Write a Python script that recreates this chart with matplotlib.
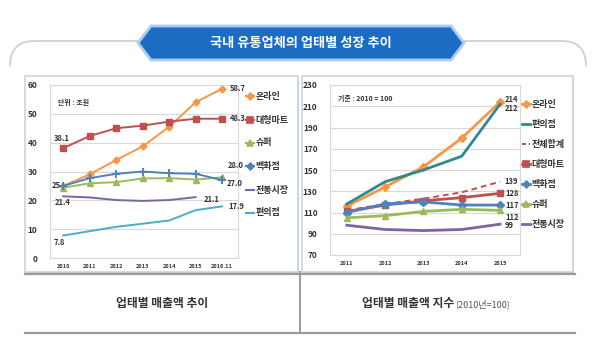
import matplotlib
matplotlib.use('Agg')
import matplotlib.pyplot as plt
from matplotlib.patches import Polygon, Rectangle, PathPatch
from matplotlib.path import Path
from matplotlib.lines import Line2D

plt.rcParams['font.family'] = ['Noto Sans CJK KR', 'DejaVu Sans']

W, H = 600, 348

# 업태별 매출액 (조원)
years_l = ['2010', '2011', '2012', '2013', '2014', '2015', '2016.11']
online_l = [25.0, 29.0, 34.0, 38.7, 45.5, 54.0, 58.7]
mart_l = [38.1, 42.3, 45.0, 45.9, 47.3, 48.3, 48.3]
super_l = [24.4, 25.9, 26.3, 27.6, 27.7, 27.2, 28.0]
dept_l = [25.0, 27.7, 29.2, 30.0, 29.4, 29.2, 27.0]
market_l = [21.4, 21.0, 20.1, 19.8, 20.1, 21.1]
conv_l = [7.8, 9.3, 10.8, 11.9, 13.0, 16.6, 17.9]

# 업태별 매출액 지수 (2010 = 100)
years_r = ['2011', '2012', '2013', '2014', '2015']
online_r = [116, 134, 153, 180, 214]
conv_r = [118, 139, 150, 163, 212]
total_r = [112, 118, 123, 129, 139]
mart_r = [111, 117, 121, 124, 128]
dept_r = [110, 118, 120, 117, 117]
super_r = [105, 107, 111, 113, 112]
market_r = [98, 94, 93, 94, 99]

ORANGE = '#f79646'
RED = '#c0504d'
GREEN = '#9bbb59'
BLUE = '#4f81bd'
PURPLE = '#8064a2'
CYAN = '#4bacc6'
TEAL = '#2f8a8f'
TXT = '#333333'


def rect(x0, y0, x1, y1):
    return [x0 / W, 1 - y1 / H, (x1 - x0) / W, (y1 - y0) / H]


fig = plt.figure(figsize=(6, 3.48), dpi=100)
bg = fig.add_axes([0, 0, 1, 1], zorder=0)
bg.set_xlim(0, W)
bg.set_ylim(H, 0)
bg.axis('off')

# title banner with side arcs
arc_l = Path([(10, 66), (10, 41), (34, 41), (138, 41)],
             [Path.MOVETO, Path.CURVE3, Path.CURVE3, Path.LINETO])
arc_r = Path([(464, 41), (562, 41), (586, 41), (586, 66)],
             [Path.MOVETO, Path.LINETO, Path.CURVE3, Path.CURVE3])
for p in (arc_l, arc_r):
    bg.add_patch(PathPatch(p, fc='none', ec='#d0d0d0', lw=1.3))
bg.add_patch(Polygon([(138, 43), (151, 26), (451, 26), (464, 43), (451, 60), (151, 60)],
                     closed=True, fc='#1c6cc4', ec='#a9cdee', lw=2))
bg.text(301, 43, '국내 유통업체의 업태별 성장 추이', color='white', fontsize=9.5,
        fontweight='bold', ha='center', va='center')

# chart panels
for x0, x1 in ((25, 298), (302, 573)):
    bg.add_patch(Rectangle((x0 + 1, 77.5), x1 - x0, 196, fc='#b8bcc4', ec='none'))
    bg.add_patch(Rectangle((x0, 76), x1 - x0, 196, fc='white', ec='#c9d5e3', lw=1.2))

# caption table
bg.plot([25, 575], [274, 274], color='#9a9a9a', lw=1.6)
bg.plot([25, 575], [333, 333], color='#9a9a9a', lw=1.6)
bg.plot([300, 300], [272, 333], color='#9a9a9a', lw=1.4)
bg.text(162, 304, '업태별 매출액 추이', color=TXT, fontsize=8.5, fontweight='bold',
        ha='center', va='center')
bg.text(454, 304, '업태별 매출액 지수', color=TXT, fontsize=8.5, fontweight='bold',
        ha='right', va='center')
bg.text(455, 304, '(2010년=100)', color='#555555', fontsize=6.5,
        ha='left', va='center')


def style(ax, ylo, yhi, step, labels):
    ax.set_ylim(ylo, yhi)
    ax.set_yticks(range(ylo, yhi + 1, step))
    ax.set_xticks(range(len(labels)))
    ax.set_xticklabels(labels)
    ax.grid(axis='y', color='#d9d9d9', lw=0.8)
    ax.set_axisbelow(True)
    for s in ax.spines.values():
        s.set_color('#d9d9d9')
        s.set_linewidth(0.8)
    ax.tick_params(length=0)
    ax.tick_params(axis='y', labelsize=6, pad=9, labelcolor=TXT)
    ax.tick_params(axis='x', labelsize=4, pad=4, labelcolor=TXT)
    for t in ax.get_yticklabels() + ax.get_xticklabels():
        t.set_fontweight('bold')


def label(ax, x, y, s, dx, dy, ha='left'):
    ax.annotate(s, (x, y), xytext=(dx, dy), textcoords='offset pixels',
                ha=ha, va='center', fontsize=5.5, fontweight='bold', color=TXT)


def key(x, y, color, s, marker=None, ls='-', lw=1.5, ms=4, w=8):
    bg.add_line(Line2D([x, x + w], [y, y], color=color, lw=lw, ls=ls))
    if marker:
        bg.plot([x + w / 2], [y], marker=marker, color=color, ms=ms, mew=1.2)
    bg.text(x + w + 1.5, y, s, fontsize=6.5, fontweight='bold', color=TXT,
            ha='left', va='center')


# left: sales trend
ax1 = fig.add_axes(rect(50, 85, 238, 258), zorder=1)
xl = range(len(years_l))
ax1.plot(xl, online_l, color=ORANGE, lw=1.4, marker='D', ms=3.5)
ax1.plot(xl, mart_l, color=RED, lw=1.4, marker='s', ms=4)
ax1.plot(xl, super_l, color=GREEN, lw=1.4, marker='^', ms=4)
ax1.plot(xl, dept_l, color=BLUE, lw=1.4, marker='+', ms=6, mew=1.4)
ax1.plot(range(len(market_l)), market_l, color=PURPLE, lw=1.4)
ax1.plot(xl, conv_l, color=CYAN, lw=1.4)
style(ax1, 0, 60, 10, years_l)
ax1.set_xlim(-0.5, 6.6)
ax1.text(0.04, 0.9, '단위 : 조원', transform=ax1.transAxes, fontsize=5,
         fontweight='bold', color=TXT, va='center')

label(ax1, 6, online_l[-1], f'{online_l[-1]:.1f}', 8, 0)
label(ax1, 6, mart_l[-1], f'{mart_l[-1]:.1f}', 8, 0)
label(ax1, 6, super_l[-1], f'{super_l[-1]:.1f}', 6, 12)
label(ax1, 6, dept_l[-1], f'{dept_l[-1]:.1f}', 5, -3)
label(ax1, 5, market_l[-1], f'{market_l[-1]:.1f}', 8, -2)
label(ax1, 6, conv_l[-1], f'{conv_l[-1]:.1f}', 6, 0)
label(ax1, 0, mart_l[0], f'{mart_l[0]:.1f}', -1, 10, ha='center')
label(ax1, 0, online_l[0], f'{online_l[0]:.0f}', -3, 0, ha='right')
label(ax1, 0, market_l[0], f'{market_l[0]:.1f}', -1, -6, ha='center')
label(ax1, 0, conv_l[0], f'{conv_l[0]:.1f}', -4, -7, ha='center')

key(246, 96, ORANGE, '온라인', 'D', ms=3.5)
key(246, 120, RED, '대형마트', 's', ms=4)
key(246, 143, GREEN, '슈퍼', '^', ms=4)
key(246, 166, BLUE, '백화점', 'D', ms=3.5)
key(246, 190, PURPLE, '전통시장')
key(246, 213, CYAN, '편의점')

# right: sales index
ax2 = fig.add_axes(rect(330, 85, 520, 255), zorder=1)
xr = range(len(years_r))
ax2.plot(xr, online_r, color=ORANGE, lw=2, marker='D', ms=4)
ax2.plot(xr, conv_r, color=TEAL, lw=2)
ax2.plot(xr, total_r, color=RED, lw=1.4, ls=(0, (3, 2)))
ax2.plot(xr, mart_r, color=RED, lw=2, marker='s', ms=5)
ax2.plot(xr, dept_r, color=BLUE, lw=2, marker='D', ms=4)
ax2.plot(xr, super_r, color=GREEN, lw=2, marker='^', ms=4)
ax2.plot(xr, market_r, color=PURPLE, lw=2)
style(ax2, 70, 230, 20, years_r)
ax2.set_xlim(-0.44, 4.52)
ax2.text(0.04, 0.92, '기준 : 2010 = 100', transform=ax2.transAxes, fontsize=5,
         fontweight='bold', color=TXT, va='center')

label(ax2, 4, online_r[-1], str(online_r[-1]), 5, 2)
label(ax2, 4, conv_r[-1], str(conv_r[-1]), 5, -4)
label(ax2, 4, total_r[-1], str(total_r[-1]), 4, 0)
label(ax2, 4, mart_r[-1], str(mart_r[-1]), 5, 0)
label(ax2, 4, dept_r[-1], str(dept_r[-1]), 5, 0)
label(ax2, 4, super_r[-1], str(super_r[-1]), 5, -7)
label(ax2, 4, market_r[-1], str(market_r[-1]), 5, -1)

key(522, 104, ORANGE, '온라인', 'D', lw=2, ms=3.5)
key(522, 124, TEAL, '편의점', lw=2)
key(522, 144, RED, '전체합계', ls=(0, (2, 1.5)), lw=1.4)
key(522, 164, RED, '대형마트', 's', lw=2, ms=4)
key(522, 184, BLUE, '백화점', 'D', lw=2, ms=3.5)
key(522, 204, GREEN, '슈퍼', '^', lw=2, ms=4)
key(522, 224, PURPLE, '전통시장', lw=2)

fig.savefig('out.png', dpi=100)
